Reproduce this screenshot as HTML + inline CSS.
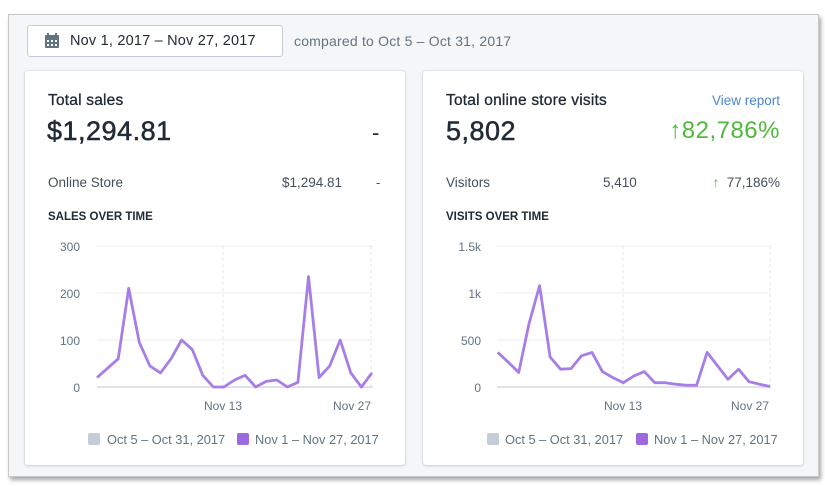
<!DOCTYPE html>
<html><head><style>
body{margin:0;width:825px;height:486px;background:#fff;font-family:"Liberation Sans",sans-serif;position:relative;overflow:hidden}
.frame{position:absolute;left:8px;top:14px;width:809px;height:461px;background:#f4f6f8;border:1px solid #c8c8c8;box-shadow:2px 3px 4px rgba(0,0,0,.35)}
.btn{position:absolute;left:27px;top:25px;width:256px;height:32px;background:#fff;border:1px solid #c4cdd5;border-radius:3px;box-sizing:border-box;font-size:14.5px;color:#212b36;line-height:31px;padding-left:42px;letter-spacing:.2px}
.card{position:absolute;top:71px;width:380px;height:394px;background:#fff;border-radius:3px;box-shadow:0 0 0 1px rgba(63,63,68,.06),0 1px 3px rgba(63,63,68,.18)}
.t{position:absolute;white-space:nowrap}
.r{position:absolute;white-space:nowrap;text-align:right}
</style></head><body>
<div class="frame"></div>
<div class="btn">Nov 1, 2017 – Nov 27, 2017</div>
<svg style="position:absolute;left:44px;top:33px" width="16" height="16" viewBox="0 0 16 16"><rect x="1" y="2" width="14" height="13" rx="1" fill="#637381"/><rect x="3" y="0" width="2" height="4" fill="#637381"/><rect x="11" y="0" width="2" height="4" fill="#637381"/><g fill="#fff"><rect x="3" y="7" width="2" height="2"/><rect x="7" y="7" width="2" height="2"/><rect x="11" y="7" width="2" height="2"/><rect x="3" y="11" width="2" height="2"/><rect x="7" y="11" width="2" height="2"/><rect x="11" y="11" width="2" height="2"/></g></svg>
<div class="t" style="left:294px;top:33px;font-size:14px;color:#637381;letter-spacing:.2px">compared to Oct 5 – Oct 31, 2017</div>

<div class="card" style="left:25px"></div>
<div class="card" style="left:423px"></div>

<div class="t" style="left:48px;top:92px;font-size:15.5px;color:#212b36;-webkit-text-stroke:.3px #212b36;letter-spacing:.2px">Total sales</div>
<div class="t" style="left:47px;top:116px;font-size:27px;color:#212b36;-webkit-text-stroke:.5px #212b36;letter-spacing:.5px">$1,294.81</div>
<div class="t" style="left:372px;top:120px;font-size:22px;color:#212b36">-</div>
<div class="t" style="left:48px;top:175px;font-size:13.5px;color:#454f5b">Online Store</div>
<div class="t" style="left:282px;top:175px;font-size:13.5px;color:#454f5b">$1,294.81</div>
<div class="t" style="left:376px;top:175px;font-size:13px;color:#454f5b">-</div>
<div class="t" style="left:48px;top:211px;font-size:11.5px;font-weight:bold;color:#212b36">SALES OVER TIME</div>

<div class="t" style="left:446px;top:92px;font-size:15.5px;color:#212b36;-webkit-text-stroke:.3px #212b36;letter-spacing:.2px">Total online store visits</div>
<div class="r" style="right:45px;top:93px;font-size:13.5px;color:#2c6ecb;opacity:.85">View report</div>
<div class="t" style="left:446px;top:116px;font-size:27px;color:#212b36;-webkit-text-stroke:.5px #212b36;letter-spacing:.5px">5,802</div>
<div class="r" style="right:45px;top:117px;font-size:24px;color:#50b83c;letter-spacing:.5px">↑82,786%</div>
<div class="t" style="left:446px;top:175px;font-size:13.5px;color:#454f5b">Visitors</div>
<div class="t" style="left:603px;top:175px;font-size:13.5px;color:#454f5b">5,410</div>
<div class="r" style="right:45px;top:175px;font-size:13.5px;color:#454f5b"><span style="color:#50b83c">↑</span>&nbsp; 77,186%</div>
<div class="t" style="left:446px;top:211px;font-size:11.5px;font-weight:bold;color:#212b36">VISITS OVER TIME</div>

<svg style="position:absolute;left:0;top:0" width="825" height="486">
<g font-family="Liberation Sans" font-size="12" fill="#637381">
<g stroke="#eceef1" stroke-width="1"><line x1="97" y1="246" x2="373" y2="246"/><line x1="97" y1="293" x2="373" y2="293"/><line x1="97" y1="340" x2="373" y2="340"/></g>
<g stroke="#e3e6ea" stroke-dasharray="3,3"><line x1="223" y1="246" x2="223" y2="387"/><line x1="371" y1="246" x2="371" y2="387"/></g>
<line x1="97" y1="387" x2="373" y2="387" stroke="#dfe3e8" stroke-width="2"/>
<text x="80" y="251" text-anchor="end">300</text><text x="80" y="298" text-anchor="end">200</text><text x="80" y="345" text-anchor="end">100</text><text x="80" y="392" text-anchor="end">0</text>
<text x="223" y="410" text-anchor="middle">Nov 13</text><text x="352" y="410" text-anchor="middle">Nov 27</text>
<polyline fill="none" stroke="#a77ee6" stroke-width="2.8" stroke-linejoin="round" points="97,377.6 107.6,368.2 118.2,358.8 128.7,288.3 139.3,342.4 149.9,365.9 160.5,372.9 171,358.8 181.6,340 192.2,349.4 202.8,375.3 213.3,387 223.9,387 234.5,380 245.1,375.3 255.6,387 266.2,381.4 276.8,380 287.4,387 297.9,382.3 308.5,276.5 319.1,377.6 329.7,365.9 340.2,340 350.8,372.9 361.4,387 372,372.9"/>
<g font-size="12.8"><rect x="88" y="433" width="12" height="12" rx="2" fill="#c4cdd5"/><text x="107" y="444">Oct 5 – Oct 31, 2017</text>
<rect x="237" y="433" width="12" height="12" rx="2" fill="#9c6ade"/><text x="255" y="444">Nov 1 – Nov 27, 2017</text></g>
<g stroke="#eceef1" stroke-width="1"><line x1="497" y1="246" x2="771" y2="246"/><line x1="497" y1="293" x2="771" y2="293"/><line x1="497" y1="340" x2="771" y2="340"/></g>
<g stroke="#e3e6ea" stroke-dasharray="3,3"><line x1="623" y1="246" x2="623" y2="387"/><line x1="770" y1="246" x2="770" y2="387"/></g>
<line x1="497" y1="387" x2="771" y2="387" stroke="#dfe3e8" stroke-width="2"/>
<text x="481" y="251" text-anchor="end">1.5k</text><text x="481" y="298" text-anchor="end">1k</text><text x="481" y="345" text-anchor="end">500</text><text x="481" y="392" text-anchor="end">0</text>
<text x="623" y="410" text-anchor="middle">Nov 13</text><text x="750" y="410" text-anchor="middle">Nov 27</text>
<polyline fill="none" stroke="#a77ee6" stroke-width="2.8" stroke-linejoin="round" points="497.7,352.4 508.2,362.1 518.7,372.5 529.1,323.2 539.6,285.7 550.1,357 560.5,369.2 571,368.6 581.5,355.8 592,352.4 602.4,371.6 612.9,377.6 623.4,382.7 633.8,376 644.3,371.6 654.8,382.7 665.2,382.7 675.7,384.2 686.2,385.3 696.6,385.3 707.1,352.4 717.6,365.9 728,379.3 738.5,369.2 749,381.7 759.4,384.2 770,386.5"/>
<g font-size="12.8"><rect x="487" y="433" width="12" height="12" rx="2" fill="#c4cdd5"/><text x="505" y="444">Oct 5 – Oct 31, 2017</text>
<rect x="636" y="433" width="12" height="12" rx="2" fill="#9c6ade"/><text x="654" y="444">Nov 1 – Nov 27, 2017</text></g>
</g></svg>
</body></html>
